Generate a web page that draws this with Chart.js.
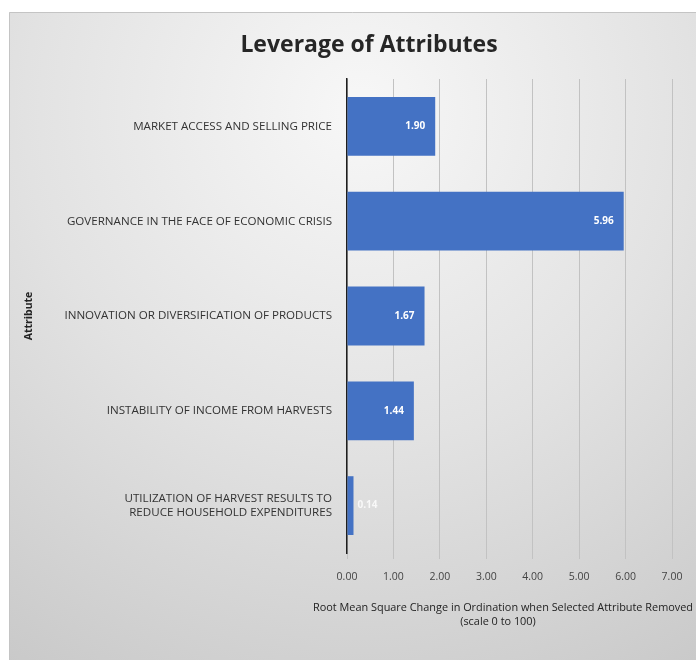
<!DOCTYPE html>
<html>
<head>
<meta charset="utf-8">
<script src="https://cdn.jsdelivr.net/npm/chart.js@4"></script>
<style>
  html, body { margin: 0; padding: 0; background: #fff; }
  #wrap { width: 696px; height: 660px; }
</style>
</head>
<body>
<div id="wrap"><canvas id="myChart" width="696" height="660"></canvas></div>
<script>
const chartTitle = 'Leverage of Attributes';
const xTitle = ['Root Mean Square Change in Ordination when Selected Attribute Removed', '(scale 0 to 100)'];
const attributes = [
	'MARKET ACCESS AND SELLING PRICE',
	'GOVERNANCE IN THE FACE OF ECONOMIC CRISIS',
	'INNOVATION OR DIVERSIFICATION OF PRODUCTS',
	'INSTABILITY OF INCOME FROM HARVESTS',
	['UTILIZATION OF HARVEST RESULTS TO', 'REDUCE HOUSEHOLD EXPENDITURES']
];
const rmsChange = [1.90, 5.96, 1.67, 1.44, 0.14];
const xTicks = [0, 1, 2, 3, 4, 5, 6, 7];

const sans = "'Open Sans', 'Noto Sans', sans-serif";

// grey panel behind the whole chart, plus the heading and the x axis title
// (the axis title is wider than the plot, so Chart.js would squeeze it)
const panelBg = {
	id: 'panelBg',
	beforeDraw(chart) {
		const c = chart.ctx;
		const g = c.createRadialGradient(360, 110, 20, 360, 110, 720);
		g.addColorStop(0, '#f6f6f6');
		g.addColorStop(0.45, '#e2e2e2');
		g.addColorStop(1, '#c4c4c4');
		c.save();
		c.fillStyle = g;
		c.fillRect(9, 12, 687, 648);
		c.strokeStyle = '#c4c4c4';
		c.lineWidth = 1;
		c.beginPath();
		c.moveTo(9.5, 660);
		c.lineTo(9.5, 12.5);
		c.lineTo(696, 12.5);
		c.stroke();
		c.restore();
	},
	afterDraw(chart) {
		const c = chart.ctx;
		c.save();
		c.textAlign = 'center';
		c.textBaseline = 'middle';
		c.font = 'bold 23px ' + sans;
		c.fillStyle = '#262626';
		c.fillText(chartTitle, 369, 45);
		c.font = '10.9px ' + sans;
		c.fillStyle = '#222';
		c.fillText(xTitle[0], 503, 608);
		c.fillText(xTitle[1], 498, 622);
		c.restore();
	}
};

// value labels at the inside end of each bar
const barValues = {
	id: 'barValues',
	afterDatasetsDraw(chart) {
		const c = chart.ctx;
		const meta = chart.getDatasetMeta(0);
		c.save();
		c.font = 'bold 10px ' + sans;
		c.textBaseline = 'middle';
		meta.data.forEach(function (bar, i) {
			const txt = rmsChange[i].toFixed(2);
			const w = c.measureText(txt).width;
			if (bar.x - bar.base > w + 16) {
				c.fillStyle = '#ffffff';
				c.textAlign = 'right';
				c.fillText(txt, bar.x - 10, bar.y);
			} else {
				c.fillStyle = 'rgba(255,255,255,0.8)';
				c.textAlign = 'left';
				c.fillText(txt, bar.x + 4, bar.y);
			}
		});
		c.restore();
	}
};

const ctx = document.getElementById('myChart');

const myChart = new Chart(ctx, {
	type: 'bar',
	data: {
		labels: attributes,
		datasets: [{
			label: 'RMS',
			data: rmsChange,
			backgroundColor: '#4472c4',
			borderWidth: 0,
			barPercentage: 0.62,
			categoryPercentage: 1.0
		}]
	},
	options: {
		indexAxis: 'y',
		responsive: false,
		animation: false,
		layout: {
			padding: { top: 79, right: 24, bottom: 0, left: 0 }
		},
		scales: {
			x: {
				min: 0,
				max: 7,
				afterBuildTicks: function (axis) {
					axis.ticks = xTicks.map(v => ({ value: v }));
				},
				afterFit: function (axis) { axis.height = 107; },
				grid: {
					color: '#c2c2c2',
					lineWidth: 1,
					tickLength: 6
				},
				border: { display: false },
				ticks: {
					padding: 12,
					color: '#444',
					font: { size: 10.5, family: sans },
					callback: v => Number(v).toFixed(2)
				}
			},
			y: {
				afterFit: function (axis) { axis.width = 347; },
				grid: { display: false, drawTicks: false },
				border: { display: true, color: '#1e1e1e', width: 1.5 },
				ticks: {
					padding: 15,
					color: '#333',
					font: { size: 11.6, family: sans }
				},
				title: {
					display: true,
					text: 'Attribute',
					color: '#222',
					font: { size: 10.5, weight: 'bold', family: sans },
					padding: { top: 23, bottom: 0 }
				}
			}
		},
		plugins: {
			legend: { display: false },
			tooltip: { enabled: false },
			title: { display: false }
		}
	},
	plugins: [panelBg, barValues]
});
</script>
</body>
</html>
